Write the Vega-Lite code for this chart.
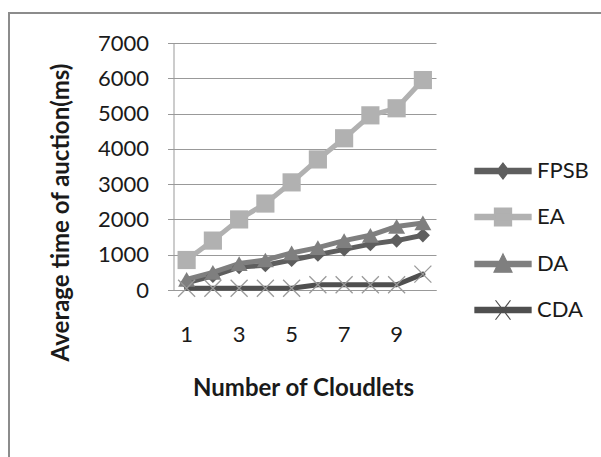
{
  "$schema": "https://vega.github.io/schema/vega-lite/v6.json",
  "width": 592,
  "height": 444,
  "autosize": {"type": "none"},
  "padding": {"left": 9, "top": 13, "right": 0, "bottom": 0},
  "background": "white",
  "config": {
    "font": "Lato",
    "view": {"stroke": "#8c8c8c", "strokeWidth": 2, "strokeDash": [592, 1036, 444]},
    "axis": {"labelFont": "Lato", "titleFont": "Lato", "labelColor": "#1a1a1a", "titleColor": "#1a1a1a", "domainColor": "#999999", "tickColor": "#999999", "gridColor": "#999999", "domainWidth": 1, "gridWidth": 1, "labelFlush": false, "labelOverlap": false, "labelBound": false}
  },
  "data": {
    "values": [
      {"n": 1, "series": "FPSB", "value": 200},
      {"n": 2, "series": "FPSB", "value": 400},
      {"n": 3, "series": "FPSB", "value": 650},
      {"n": 4, "series": "FPSB", "value": 700},
      {"n": 5, "series": "FPSB", "value": 850},
      {"n": 6, "series": "FPSB", "value": 1000},
      {"n": 7, "series": "FPSB", "value": 1150},
      {"n": 8, "series": "FPSB", "value": 1300},
      {"n": 9, "series": "FPSB", "value": 1400},
      {"n": 10, "series": "FPSB", "value": 1550},
      {"n": 1, "series": "EA", "value": 850},
      {"n": 2, "series": "EA", "value": 1400},
      {"n": 3, "series": "EA", "value": 2000},
      {"n": 4, "series": "EA", "value": 2450},
      {"n": 5, "series": "EA", "value": 3050},
      {"n": 6, "series": "EA", "value": 3700},
      {"n": 7, "series": "EA", "value": 4300},
      {"n": 8, "series": "EA", "value": 4950},
      {"n": 9, "series": "EA", "value": 5150},
      {"n": 10, "series": "EA", "value": 5950},
      {"n": 1, "series": "DA", "value": 300},
      {"n": 2, "series": "DA", "value": 500},
      {"n": 3, "series": "DA", "value": 750},
      {"n": 4, "series": "DA", "value": 850},
      {"n": 5, "series": "DA", "value": 1050},
      {"n": 6, "series": "DA", "value": 1200},
      {"n": 7, "series": "DA", "value": 1400},
      {"n": 8, "series": "DA", "value": 1550},
      {"n": 9, "series": "DA", "value": 1800},
      {"n": 10, "series": "DA", "value": 1900},
      {"n": 1, "series": "CDA", "value": 50},
      {"n": 2, "series": "CDA", "value": 50},
      {"n": 3, "series": "CDA", "value": 50},
      {"n": 4, "series": "CDA", "value": 50},
      {"n": 5, "series": "CDA", "value": 50},
      {"n": 6, "series": "CDA", "value": 150},
      {"n": 7, "series": "CDA", "value": 150},
      {"n": 8, "series": "CDA", "value": 150},
      {"n": 9, "series": "CDA", "value": 150},
      {"n": 10, "series": "CDA", "value": 450}
    ]
  },
  "layer": [
    {
      "mark": {"type": "line", "strokeWidth": 5, "strokeCap": "round", "strokeJoin": "round"},
      "encoding": {
        "x": {
          "field": "n", "type": "ordinal",
          "scale": {"type": "band", "range": [164.5, 427], "paddingInner": 0, "paddingOuter": 0},
          "axis": {"values": [1, 3, 5, 7, 9], "offset": -167, "grid": false, "ticks": false, "labelAngle": 0, "labelFontSize": 22, "labelPadding": 34, "title": "Number of Cloudlets", "titleFontSize": 24, "titleFontWeight": "bold", "titleX": 294, "titleY": 105, "titleAlign": "center", "titleBaseline": "alphabetic"}
        },
        "y": {
          "field": "value", "type": "quantitative",
          "scale": {"domain": [0, 7000], "range": [277, 30], "nice": false},
          "axis": {"values": [0, 1000, 2000, 3000, 4000, 5000, 6000, 7000], "format": "d", "offset": -164.5, "grid": true, "tickSize": 6, "labelFontSize": 22, "labelPadding": 19, "title": "Average time of auction(ms)", "titleFontSize": 24, "titleFontWeight": "bold", "titleX": -112.5, "titleY": 199, "titleAngle": -90, "titleAlign": "center", "titleBaseline": "middle"}
        },
        "color": {
          "field": "series", "type": "nominal",
          "scale": {"domain": ["FPSB", "EA", "DA", "CDA"], "range": ["#5e5e5e", "#b1b1b1", "#7f7f7f", "#4f4f4f"]},
          "legend": {
            "orient": "none", "legendX": 478, "legendY": 142, "title": null, "padding": 0,
            "symbolSize": 900, "rowPadding": 19, "labelOffset": 18,
            "labelFont": "Lato", "labelFontSize": 22, "labelColor": "#1a1a1a",
            "encode": {
              "symbols": {
                "update": {
                  "shape": {"signal": "datum.value === 'FPSB' ? 'M-1.87,-0.17H1.87V0.17H-1.87Z M0,-0.53L0.42,0L0,0.53L-0.42,0Z' : datum.value === 'EA' ? 'M-1.87,-0.17H1.87V0.17H-1.87Z M-0.57,-0.6H0.57V0.6H-0.57Z' : datum.value === 'DA' ? 'M-1.87,-0.17H1.87V0.17H-1.87Z M0,-0.67L0.6,0.55H-0.6Z' : 'M-1.87,-0.17H1.87V0.17H-1.87Z M-0.5,-0.65L0.5,0.65M-0.5,0.65L0.5,-0.65'"},
                  "fill": {"scale": "color", "field": "value"},
                  "stroke": {"signal": "datum.value === 'CDA' ? '#9a9a9a' : 'transparent'"},
                  "strokeWidth": {"value": 1.2},
                  "size": {"value": 900},
                  "opacity": {"value": 1}
                }
              }
            }
          }
        }
      }
    },
    {
      "transform": [{"filter": "datum.series === 'FPSB'"}],
      "mark": {"type": "point", "shape": "diamond", "filled": true, "size": 200, "color": "#5e5e5e", "opacity": 1},
      "encoding": {"x": {"field": "n", "type": "ordinal"}, "y": {"field": "value", "type": "quantitative"}}
    },
    {
      "transform": [{"filter": "datum.series === 'EA'"}],
      "mark": {"type": "point", "shape": "square", "filled": true, "size": 330, "color": "#b1b1b1", "opacity": 1},
      "encoding": {"x": {"field": "n", "type": "ordinal"}, "y": {"field": "value", "type": "quantitative"}}
    },
    {
      "transform": [{"filter": "datum.series === 'DA'"}],
      "mark": {"type": "point", "shape": "triangle-up", "filled": true, "size": 289, "color": "#7f7f7f", "opacity": 1},
      "encoding": {"x": {"field": "n", "type": "ordinal"}, "y": {"field": "value", "type": "quantitative"}}
    },
    {
      "transform": [{"filter": "datum.series === 'CDA'"}],
      "mark": {"type": "point", "shape": "M-1,-1L1,1M-1,1L1,-1", "filled": false, "size": 289, "color": "#9a9a9a", "strokeWidth": 1.3, "opacity": 1},
      "encoding": {"x": {"field": "n", "type": "ordinal"}, "y": {"field": "value", "type": "quantitative"}}
    }
  ]
}
